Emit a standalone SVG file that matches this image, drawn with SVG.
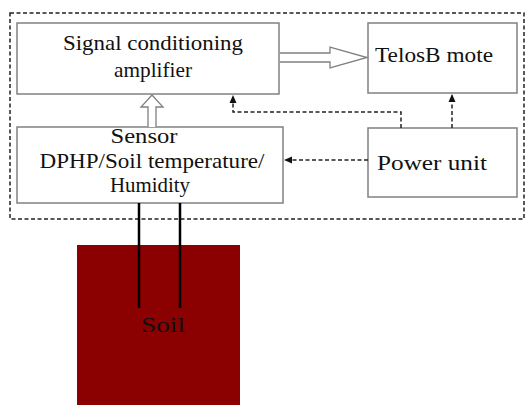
<svg xmlns="http://www.w3.org/2000/svg" width="527" height="405" viewBox="0 0 527 405">
<style>
.box{fill:#fff;stroke:#808080;stroke-width:1.5}
.t{font-family:"Liberation Serif",serif;font-size:22px;fill:#111;text-anchor:middle}
.dash{fill:none;stroke:#222;stroke-width:1.5;stroke-dasharray:4 2.5}
.hollow{fill:#fff;stroke:#808080;stroke-width:1.3}
</style>
<defs>
<marker id="ah" markerWidth="8" markerHeight="8" refX="7" refY="4" orient="auto" markerUnits="userSpaceOnUse">
<path d="M0,0.5 L8,4 L0,7.5 Z" fill="#111"/>
</marker>
</defs>
<rect x="10" y="13" width="514" height="206" fill="none" stroke="#222" stroke-width="1.5" stroke-dasharray="4 2.5"/>
<g id="soil">
<rect x="77" y="245" width="163" height="165" fill="#8b0000"/>
<text class="t" x="163" y="332" font-size="20" textLength="44" lengthAdjust="spacingAndGlyphs">Soil</text>
</g>
<g id="signal">
<rect class="box" x="17" y="23" width="262" height="71"/>
<text class="t" x="153" y="50" textLength="180" lengthAdjust="spacingAndGlyphs">Signal conditioning</text>
<text class="t" x="153" y="77" textLength="78" lengthAdjust="spacingAndGlyphs">amplifier</text>
</g>
<g id="sensor">
<rect class="box" x="17" y="127" width="266" height="76"/>
<text class="t" x="144" y="143" textLength="67" lengthAdjust="spacingAndGlyphs">Sensor</text>
<text class="t" x="152" y="168" textLength="225" lengthAdjust="spacingAndGlyphs">DPHP/Soil  temperature/</text>
<text class="t" x="150" y="192" textLength="80" lengthAdjust="spacingAndGlyphs">Humidity</text>
</g>
<g id="telosb">
<rect class="box" x="368" y="23" width="149" height="70"/>
<text class="t" x="434" y="62" textLength="118" lengthAdjust="spacingAndGlyphs">TelosB  mote</text>
</g>
<g id="power">
<rect class="box" x="368" y="128" width="149" height="69"/>
<text class="t" x="432" y="170" textLength="110" lengthAdjust="spacingAndGlyphs">Power unit</text>
</g>
<g id="connectors">
<path class="hollow" d="M280,53 L330,53 L330,47 L367,57.5 L330,68 L330,62 L280,62"/>
<path class="hollow" d="M148,127 L148,107 L141,107 L152,95 L163,107 L156,107 L156,127"/>
<path class="dash" d="M401,128 L401,112 L233,112 L233,96" marker-end="url(#ah)"/>
<path class="dash" d="M452,128 L452,95" marker-end="url(#ah)"/>
<path class="dash" d="M368,160 L285,160" marker-end="url(#ah)"/>
<line x1="139" y1="203" x2="139" y2="308" stroke="#000" stroke-width="2.5"/>
<line x1="180" y1="203" x2="180" y2="308" stroke="#000" stroke-width="2.5"/>
</g>
</svg>
